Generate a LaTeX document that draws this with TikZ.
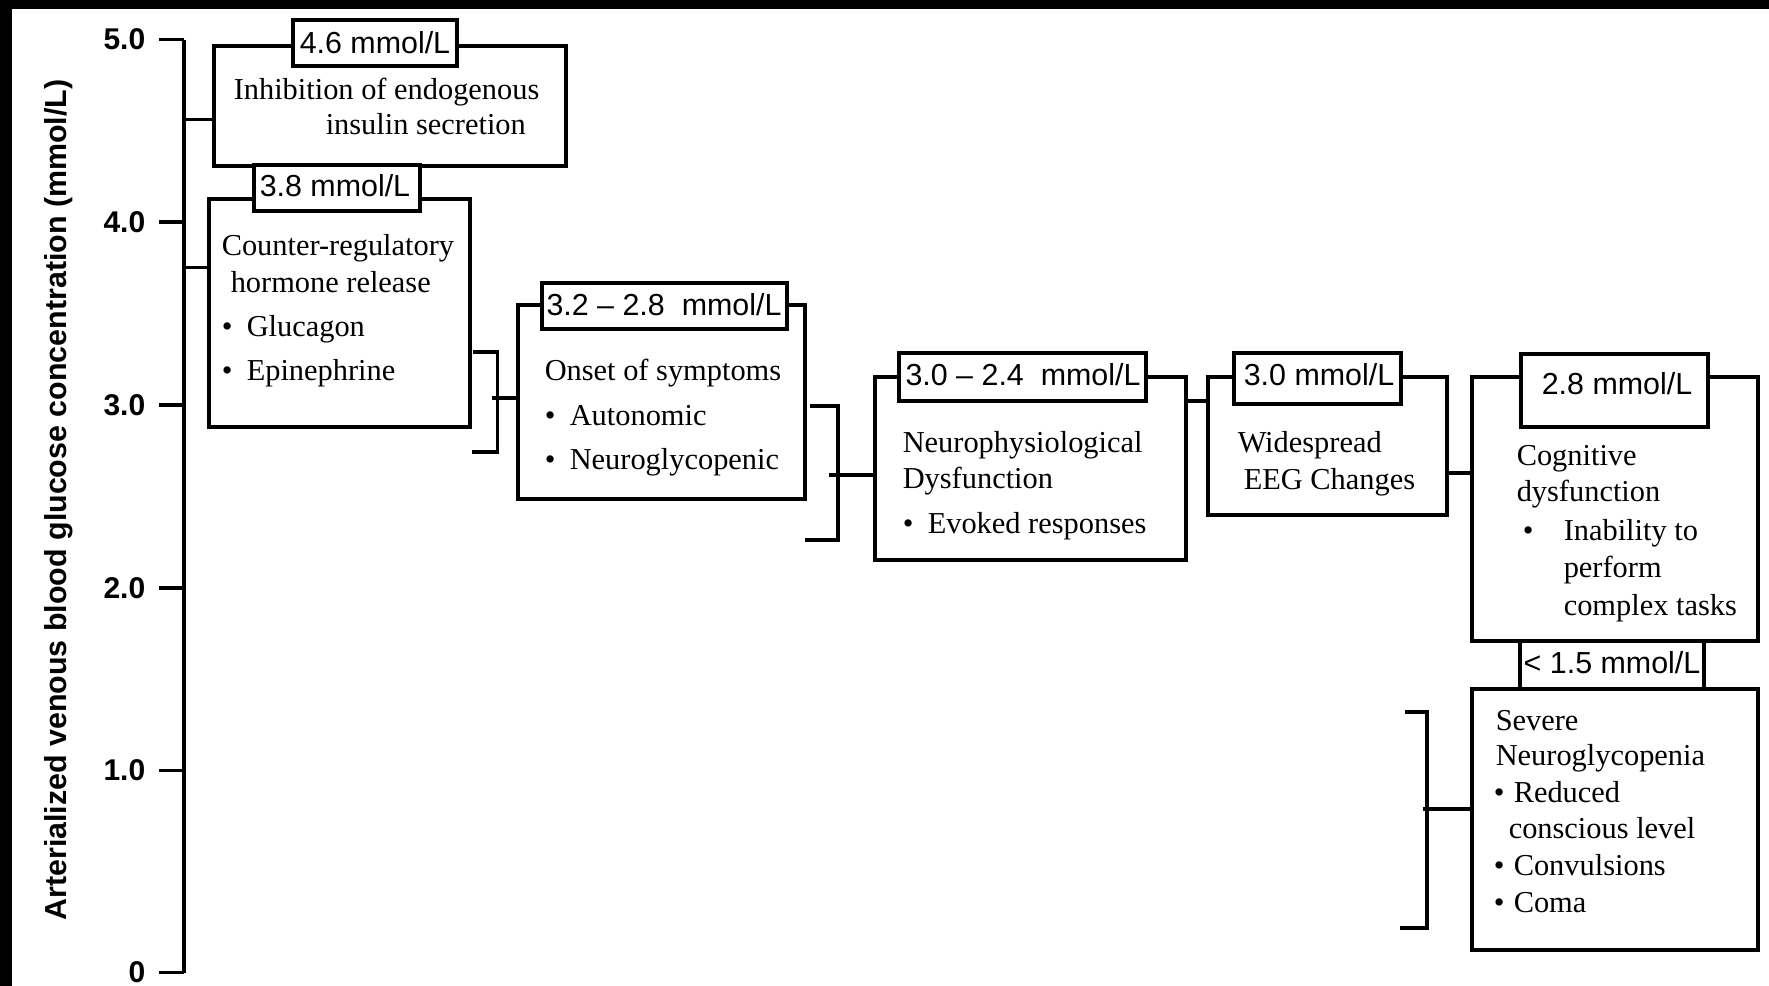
\documentclass[tikz,border=0pt]{standalone}
\usepackage{fontspec}
\setmainfont{Liberation Serif}
\newfontfamily\labfont{Liberation Sans}
\usetikzlibrary{fit}
\begin{document}
\begin{tikzpicture}[x=0.5pt,y=-0.5pt,
  line width=1.75pt,
  box/.style={draw, rectangle, inner sep=0pt, line width=1.75pt},
  lab/.style={draw, fill=white, rectangle, inner sep=0pt, line width=1.75pt},
  labtxt/.style={inner sep=0pt, font=\labfont\fontsize{15.2}{18}\selectfont},
  txt/.style={anchor=base west, inner sep=0pt, font=\fontsize{15.2}{18}\selectfont},
  ticklab/.style={anchor=east, inner sep=0pt, font=\labfont\bfseries\fontsize{15}{18}\selectfont},
  wire/.style={draw, line width=1.75pt}]
\useasboundingbox (0,0) rectangle (1769,986);
\fill[white] (0,0) rectangle (1769,986);
% black frame strips
\fill[black] (0,0) rectangle (12,986);
\fill[black] (0,0) rectangle (1769,9);

% axis
\coordinate (axT) at (184,39.5);
\coordinate (axB) at (184,972.5);
\draw[wire] (axT) -- (axB);
\foreach \i/\y/\v in {1/39.5/5.0, 2/222/4.0, 3/405/3.0, 4/588/2.0, 5/770.5/1.0, 6/972.5/0} {
  \coordinate (tk\i) at (159,\y);
  \draw[wire] (tk\i) -- (tk\i -| axT);
  \node[ticklab] (tl\i) at (147,\y) {\v};
}
\node[rotate=90, inner sep=0pt, font=\labfont\bfseries\fontsize{15.2}{18}\selectfont] (ytitle) at (59,500)
  {Arterialized venous blood glucose concentration (mmol/L)};

% boxes
\node[box, fit={(214,46) (566,166)}] (bA) {};
\node[box, fit={(209,199) (470,427)}] (bB) {};
\node[box, fit={(518,305) (805,499)}] (bC) {};
\node[box, fit={(875,377) (1186,560)}] (bD) {};
\node[box, fit={(1208,377) (1447,515)}] (bE) {};
\node[box, fit={(1472,377) (1758,641)}] (bF) {};
\node[box, fit={(1472,689) (1758,950)}] (bG) {};

% value labels
\node[lab, fit={(293,20) (457,66)}] (lA) {};
\node[labtxt] (lAt) at (375,43) {4.6 mmol/L};
\node[lab, fit={(254,165) (420,211)}] (lB) {};
\node[labtxt] (lBt) at (335,186) {3.8 mmol/L};
\node[lab, fit={(542,283) (787,329)}] (lC) {};
\node[labtxt] (lCt) at (664,305) {3.2 – 2.8\ \ mmol/L};
\node[lab, fit={(899,353) (1146,401)}] (lD) {};
\node[labtxt] (lDt) at (1023,375) {3.0 – 2.4\ \ mmol/L};
\node[lab, fit={(1234,353) (1401,404)}] (lE) {};
\node[labtxt] (lEt) at (1319,375) {3.0 mmol/L};
\node[lab, fit={(1521,354) (1708,427)}] (lF) {};
\node[labtxt] (lFt) at (1617,384) {2.8 mmol/L};
\node[lab, fit={(1520,641) (1704,689)}] (lG) {};
\node[labtxt] (lGt) at (1612,663) {< 1.5 mmol/L};

% box texts
\node[txt] (a1) at (232,99) {Inhibition of endogenous};
\node[txt] (a2) at (324,134) {insulin secretion};

\node[txt] (b1) at (220,255) {Counter-regulatory};
\node[txt] (b2) at (229,292) {hormone release};
\node[txt] (b3d) at (220,336) {•};
\node[txt] (b3) at (245,336) {Glucagon};
\node[txt] (b4d) at (220,380) {•};
\node[txt] (b4) at (245,380) {Epinephrine};

\node[txt] (c1) at (543,380) {Onset of symptoms};
\node[txt] (c2d) at (543,425) {•};
\node[txt] (c2) at (568,425) {Autonomic};
\node[txt] (c3d) at (543,469) {•};
\node[txt] (c3) at (568,469) {Neuroglycopenic};

\node[txt] (d1) at (901,452) {Neurophysiological};
\node[txt] (d2) at (901,488) {Dysfunction};
\node[txt] (d3d) at (901,533) {•};
\node[txt] (d3) at (926,533) {Evoked responses};

\node[txt] (e1) at (1236,452) {Widespread};
\node[txt] (e2) at (1242,489) {EEG Changes};

\node[txt] (f1) at (1515,465) {Cognitive};
\node[txt] (f2) at (1515,501) {dysfunction};
\node[txt] (f3d) at (1521,540) {•};
\node[txt] (f3) at (1562,540) {Inability to};
\node[txt] (f4) at (1562,577) {perform};
\node[txt] (f5) at (1562,615) {complex tasks};

\node[txt] (g1) at (1494,730) {Severe};
\node[txt] (g2) at (1494,765) {Neuroglycopenia};
\node[txt] (g3d) at (1492,802) {•};
\node[txt] (g3) at (1512,802) {Reduced};
\node[txt] (g4) at (1507,838) {conscious level};
\node[txt] (g5d) at (1492,875) {•};
\node[txt] (g5) at (1512,875) {Convulsions};
\node[txt] (g6d) at (1492,912) {•};
\node[txt] (g6) at (1512,912) {Coma};

% connectors from axis
\coordinate (cA) at (184,119.6);
\draw[wire] (cA) -- (cA -| bA.west);
\coordinate (cB) at (184,267.4);
\draw[wire] (cB) -- (cB -| bB.west);

% bracket 1 (B -> C)
\coordinate (k1a) at (473,352);
\coordinate (k1b) at (497.5,352);
\coordinate (k1c) at (497.5,452);
\coordinate (k1d) at (472,452);
\draw[wire] (k1a) -- (k1b) -- (k1c) -- (k1d);
\coordinate (k1m) at (492,398);
\draw[wire] (k1m) -- (k1m -| bC.west);

% bracket 2 (C -> D)
\coordinate (k2a) at (810,406);
\coordinate (k2b) at (838,406);
\coordinate (k2c) at (838,540);
\coordinate (k2d) at (805,540);
\draw[wire] (k2a) -- (k2b) -- (k2c) -- (k2d);
\coordinate (k2m) at (829,475);
\draw[wire] (k2m) -- (k2m -| bD.west);

% D -> E, E -> F
\coordinate (cDE) at (1186,401);
\draw[wire] (cDE -| bD.east) -- (cDE -| bE.west);
\coordinate (cEF) at (1447,473);
\draw[wire] (cEF -| bE.east) -- (cEF -| bF.west);

% bracket 3 (-> G)
\coordinate (k3a) at (1405,712);
\coordinate (k3b) at (1427,712);
\coordinate (k3c) at (1427,928);
\coordinate (k3d) at (1400,928);
\draw[wire] (k3a) -- (k3b) -- (k3c) -- (k3d);
\coordinate (k3m) at (1423,809);
\draw[wire] (k3m) -- (k3m -| bG.west);
\end{tikzpicture}
\end{document}
